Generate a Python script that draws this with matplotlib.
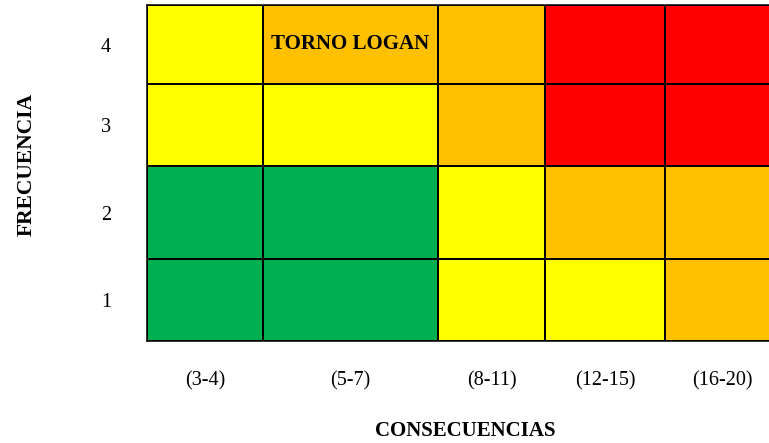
import numpy as np
import matplotlib.pyplot as plt
from matplotlib.colors import ListedColormap

plt.rcParams['font.family'] = ['Liberation Serif', 'DejaVu Serif']

consecuencias = ['(3-4)', '(5-7)', '(8-11)', '(12-15)', '(16-20)']
frecuencias = ['1', '2', '3', '4']
# risk level per cell, rows = frequency 1..4, cols = consequence groups
# 0 green, 1 yellow, 2 orange, 3 red
nivel = [
    [0, 0, 1, 1, 2],
    [0, 0, 1, 2, 2],
    [1, 1, 2, 3, 3],
    [1, 2, 2, 3, 3],
]
etiqueta = 'TORNO LOGAN'
etiqueta_celda = (3, 1)  # (frequency row, consequence col)

# layout: uneven cell sizes as in the original table
col_widths = [116, 175, 107, 120, 115]
row_heights = [82, 93, 82, 79]
colores = ['#00B050', '#FFFF00', '#FFC000', '#FF0000']

x_edges = np.concatenate([[0], np.cumsum(col_widths)])
y_edges = np.concatenate([[0], np.cumsum(row_heights)])

fig = plt.figure(figsize=(7.69, 4.43), dpi=100)
ax = fig.add_axes([147 / 769, 102 / 443, 633 / 769, 336 / 443])

ax.pcolormesh(x_edges, y_edges, np.array(nivel), cmap=ListedColormap(colores),
              vmin=-0.5, vmax=3.5, edgecolor='black', linewidth=1.1)
ax.set_xlim(x_edges[0], x_edges[-1])
ax.set_ylim(y_edges[0], y_edges[-1])

xc = (x_edges[:-1] + x_edges[1:]) / 2
yc = (y_edges[:-1] + y_edges[1:]) / 2
ax.set_xticks(xc)
ax.set_xticklabels(consecuencias, fontsize=14.5)
ax.set_yticks(yc)
ax.set_yticklabels(frecuencias, fontsize=14.5)
ax.tick_params(axis='x', length=0, pad=21.5)
ax.tick_params(axis='y', length=0, pad=26)
for s in ax.spines.values():
    s.set_linewidth(1.1)

r, c = etiqueta_celda
ax.text(xc[c], y_edges[r + 1] - 39, etiqueta, ha='center', va='center',
        fontsize=15, fontweight='bold')

fig.text(465 / 769, 1 - 431 / 443, 'CONSECUENCIAS', ha='center', va='center',
         fontsize=15, fontweight='bold')
fig.text(27 / 769, 1 - 164 / 443, 'FRECUENCIA', ha='center', va='center',
         rotation=90, fontsize=15.5, fontweight='bold')

fig.savefig('out.png', dpi=100)
